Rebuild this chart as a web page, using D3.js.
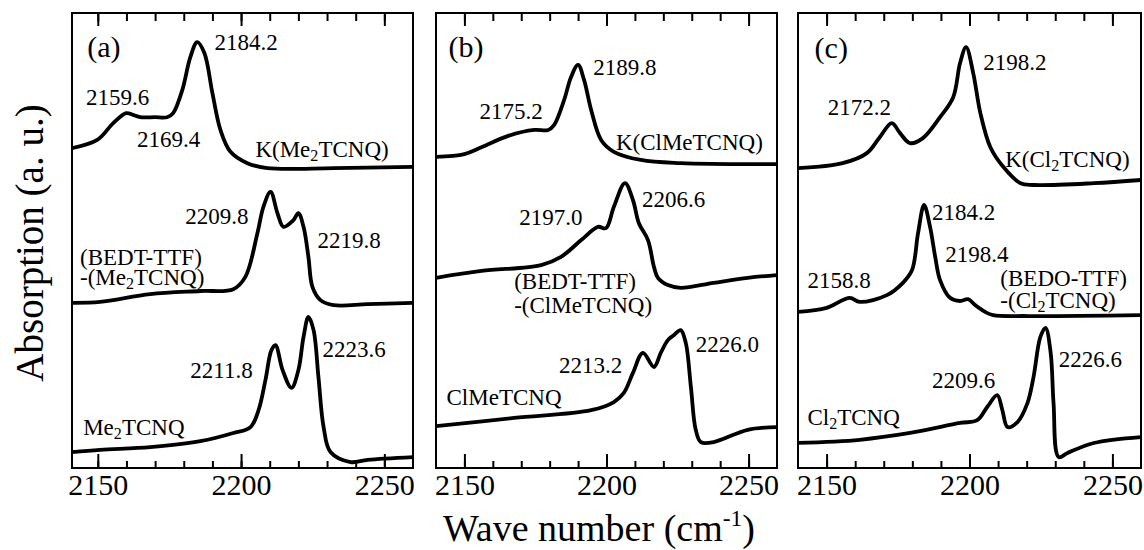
<!DOCTYPE html>
<html>
<head>
<meta charset="utf-8">
<script src="https://cdn.jsdelivr.net/npm/d3@7"></script>
<style>
	body { margin: 0; background: #fff; }
	svg { display: block; }
	text { font-family: "Liberation Serif", "Times New Roman", serif; fill: #000; }
</style>
</head>
<body>
<div id="chart"></div>
<script>
// Spectra: [wave number (cm-1), absorption (a. u., offset)]
// panel (a)
var kMe2 = [[2141.0,70.3],[2149.8,72.1],[2155.4,75.8],[2159.9,78.0],[2162.3,77.6],[2164.8,77.1],[2170.0,77.1],[2174.2,77.1],[2176.3,78.0],[2179.5,83.1],[2182.3,90.3],[2184.7,93.6],[2187.2,91.2],[2190.0,82.4],[2192.8,74.3],[2196.3,69.5],[2202.2,67.0],[2209.2,65.9],[2232.3,65.9],[2260,66.2]];
var bedtMe2 = [[2141,36.3],[2150.8,36.5],[2168.3,38.2],[2185.8,38.9],[2197.3,39.3],[2201.5,42.0],[2205.7,51.6],[2207.8,57.4],[2210.3,60.7],[2212.7,56.0],[2214.8,53.0],[2218.3,54.5],[2220.0,56.0],[2221.8,53.0],[2223.5,46.4],[2224.9,39.8],[2227.7,36.9],[2232.3,35.8],[2244.2,36.0],[2260,36.3]];
var me2 = [[2141,3.5],[2150.8,4.0],[2168.3,4.6],[2185.8,5.9],[2197.3,7.7],[2203.3,9.0],[2206.1,12.7],[2208.5,19.3],[2210.6,25.9],[2212.0,27.0],[2214.5,21.5],[2217.6,17.6],[2220.0,21.5],[2221.8,28.8],[2223.5,33.2],[2225.3,30.3],[2227.0,20.0],[2228.8,9.0],[2231.2,3.5],[2238.2,1.3],[2244.2,1.8],[2260,2.4]];
// panel (b)
var kClMe = [[2140,68.4],[2150,69.0],[2156.0,70.5],[2165.4,73.0],[2174.6,74.3],[2179.5,74.3],[2181.6,75.4],[2185.1,80.9],[2187.5,85.9],[2190.0,88.6],[2192.1,85.3],[2194.6,78.7],[2198.1,72.1],[2202.6,69.5],[2212.1,67.7],[2226.1,67.0],[2260,66.8]];
var bedtClMe = [[2140,41.8],[2156.0,43.3],[2177.0,44.6],[2184.0,46.4],[2191.1,50.1],[2197.0,53.0],[2199.8,52.7],[2202.6,57.4],[2206.5,62.6],[2209.3,58.9],[2211.4,53.8],[2214.6,50.1],[2216.7,44.2],[2218.1,41.8],[2221.6,40.2],[2226.1,39.6],[2237.7,40.7],[2249.7,41.8],[2260,42.4]];
var clMe = [[2140,9.2],[2167.5,11.0],[2194.6,12.7],[2202.6,14.5],[2206.1,16.5],[2209.3,20.9],[2212.8,25.3],[2216.7,22.2],[2219.1,25.3],[2221.6,28.1],[2223.7,29.2],[2226.1,30.3],[2227.9,27.5],[2229.7,17.8],[2231.4,8.4],[2233.2,5.7],[2237.7,5.7],[2249.7,8.4],[2260,9.0]];
// panel (c)
var kCl2 = [[2140,65.9],[2155.6,67.0],[2164.1,69.2],[2168.6,72.7],[2172.8,75.8],[2175.7,73.6],[2179.2,71.4],[2183.7,72.5],[2189.7,77.1],[2194.3,81.5],[2196.7,89.0],[2198.8,92.5],[2201.3,86.8],[2203.8,78.0],[2207.3,70.5],[2211.8,66.2],[2217.8,62.6],[2222.4,62.2],[2243.5,62.6],[2260,63.3]];
var bedoCl2 = [[2140,34.3],[2150,35.2],[2158.1,37.4],[2161.6,36.5],[2171.1,38.0],[2176.7,40.7],[2179.9,43.5],[2182.0,51.6],[2184.1,57.8],[2186.2,53.0],[2188.0,46.4],[2189.7,41.3],[2193.2,37.4],[2196.7,36.7],[2199.5,37.1],[2202.0,35.8],[2205.5,34.3],[2208.3,33.6],[2220.3,33.4],[2260,33.6]];
var cl2 = [[2140,5.5],[2161.6,6.2],[2179.2,7.7],[2196.7,9.9],[2202.7,10.5],[2206.2,13.4],[2209.7,16.0],[2211.5,12.7],[2213.3,9.0],[2216.8,10.1],[2220.3,14.3],[2222.4,20.0],[2224.8,28.8],[2226.6,30.8],[2228.4,25.3],[2229.4,14.3],[2231.2,2.4],[2234.3,3.3],[2243.5,5.5],[2260,6.8]];

// Peak / compound labels, anchored in data units ("_2" = subscript)
var labelsA = [
	['(a)', 2146.3, 90.3], ['2184.2', 2190.7, 91.9], ['2159.6', 2145.9, 79.8], ['2169.4', 2163.7, 70.5],
	['K(Me_2TCNQ)', 2205.0, 68.4], ['2209.8', 2180.5, 53.6], ['2219.8', 2226.7, 48.4],
	['(BEDT-TTF)', 2143.8, 44.6], ['-(Me_2TCNQ)', 2143.8, 40.2],
	['2223.6', 2228.4, 24.4], ['2211.8', 2182.3, 19.8], ['Me_2TCNQ', 2144.9, 7.3]
];
var labelsB = [
	['(b)', 2144.4, 90.3], ['2189.8', 2195.3, 86.4], ['2175.2', 2155.3, 76.7], ['K(ClMeTCNQ)', 2203.3, 69.9],
	['2206.6', 2212.5, 57.4], ['2197.0', 2169.3, 53.4],
	['(BEDT-TTF)', 2167.5, 39.3], ['-(ClMeTCNQ)', 2167.5, 34.1],
	['2226.0', 2231.4, 25.5], ['2213.2', 2183.3, 20.9], ['ClMeTCNQ', 2143.7, 13.8]
];
var labelsC = [
	['(c)', 2145.8, 90.1], ['2198.2', 2204.8, 87.5], ['2172.2', 2150.4, 77.6], ['K(Cl_2TCNQ)', 2212.5, 66.2],
	['2184.2', 2186.9, 54.5], ['2198.4', 2191.5, 45.3], ['2158.8', 2143.3, 39.6],
	['(BEDO-TTF)', 2210.8, 40.0], ['-(Cl_2TCNQ)', 2210.8, 35.2],
	['2226.6', 2231.2, 22.2], ['2209.6', 2186.9, 17.6], ['Cl_2TCNQ', 2143.3, 9.5]
];

var waveDomains = [[2141, 2260], [2140, 2260], [2140, 2260]];
var absDomain = [0, 100];
var majorTicks = [2150, 2200, 2250];
var minorTicks = d3.range(2150, 2251, 10);

var panels = [
	{ curves: [kMe2, bedtMe2, me2], labels: labelsA },
	{ curves: [kClMe, bedtClMe, clMe], labels: labelsB },
	{ curves: [kCl2, bedoCl2, cl2], labels: labelsC }
];

// Layout
var total_width = 1144;
var total_height = 550;
var top_y = 13;
var bottom_y = 468;
var panel_x = [[72, 413], [436, 777], [798, 1141]];
var serif = '"Liberation Serif", "Times New Roman", serif';

var svg = d3.select('#chart')
	.append('svg')
	.attr('width', total_width)
	.attr('height', total_height);

svg.append('rect')
	.attr('width', total_width)
	.attr('height', total_height)
	.attr('fill', '#fff');

// write a label, turning "_2" into a subscript (font 70%, dropped 4px)
function writeLabel(sel, str) {
	var parts = str.split(/_(\d)/);
	var back = 0;
	parts.forEach(function(p, i) {
		if (p === '') return;
		if (i % 2 == 1) {
			sel.append('tspan').attr('font-size', '70%').attr('dy', 4).text(p);
			back = -4;
		} else {
			sel.append('tspan').attr('dy', back).text(p);
			back = 0;
		}
	});
}

panels.forEach(function(p, i) {
	var x = d3.scaleLinear().domain(waveDomains[i]).range(panel_x[i]);
	var y = d3.scaleLinear().domain(absDomain).range([bottom_y, top_y]);
	var g = svg.append('g').attr('class', 'panel');

	g.append('clipPath')
		.attr('id', 'clip' + i)
		.append('rect')
		.attr('x', panel_x[i][0])
		.attr('y', top_y)
		.attr('width', panel_x[i][1] - panel_x[i][0])
		.attr('height', bottom_y - top_y);

	// Bottom ticks (inward) and labels
	g.append('g')
		.attr('transform', 'translate(0,' + bottom_y + ')')
		.call(d3.axisBottom(x).tickValues(minorTicks).tickSizeInner(-7).tickSizeOuter(0).tickFormat(''));
	g.append('g')
		.attr('class', 'major')
		.attr('transform', 'translate(0,' + bottom_y + ')')
		.call(d3.axisBottom(x).tickValues(majorTicks).tickSizeInner(-14).tickSizeOuter(0).tickPadding(6).tickFormat(d3.format('d')));

	// Top ticks (inward)
	g.append('g')
		.attr('transform', 'translate(0,' + top_y + ')')
		.call(d3.axisTop(x).tickValues(minorTicks).tickSizeInner(-8).tickSizeOuter(0).tickFormat(''));
	g.append('g')
		.attr('transform', 'translate(0,' + top_y + ')')
		.call(d3.axisTop(x).tickValues(majorTicks).tickSizeInner(-13).tickSizeOuter(0).tickFormat(''));

	g.selectAll('.domain').remove();
	g.selectAll('.tick line').attr('stroke', '#000').attr('stroke-width', 2);
	g.selectAll('.major text')
		.attr('font-size', 30)
		.attr('font-family', serif)
		.attr('fill', '#000');

	// Frame
	g.append('rect')
		.attr('x', panel_x[i][0])
		.attr('y', top_y)
		.attr('width', panel_x[i][1] - panel_x[i][0])
		.attr('height', bottom_y - top_y)
		.attr('fill', 'none')
		.attr('stroke', '#000')
		.attr('stroke-width', 2);

	// Spectra
	var line = d3.line()
		.x(function(d) { return x(d[0]); })
		.y(function(d) { return y(d[1]); })
		.curve(d3.curveCatmullRom.alpha(0.5));

	g.selectAll('.spectrum')
		.data(p.curves)
		.enter()
		.append('path')
		.attr('class', 'spectrum')
		.attr('clip-path', 'url(#clip' + i + ')')
		.attr('d', line)
		.attr('fill', 'none')
		.attr('stroke', '#000')
		.attr('stroke-width', 3.8)
		.attr('stroke-linejoin', 'round')
		.attr('stroke-linecap', 'round');

	// Labels
	p.labels.forEach(function(l) {
		var size = 23;
		if (/^\([abc]\)$/.test(l[0])) size = 30;
		var t = g.append('text')
			.attr('x', x(l[1]))
			.attr('y', y(l[2]))
			.attr('font-size', size);
		writeLabel(t, l[0]);
	});
});

// Axis titles
svg.append('text')
	.attr('transform', 'translate(43,243) rotate(-90)')
	.attr('text-anchor', 'middle')
	.attr('font-size', 39)
	.text('Absorption (a. u.)');

var xt = svg.append('text')
	.attr('x', 599)
	.attr('y', 541)
	.attr('text-anchor', 'middle')
	.attr('font-size', 38);
xt.append('tspan').text('Wave number (cm');
xt.append('tspan').attr('font-size', '62%').attr('dy', -15).text('-1');
xt.append('tspan').attr('dy', 15).text(')');
</script>
</body>
</html>
